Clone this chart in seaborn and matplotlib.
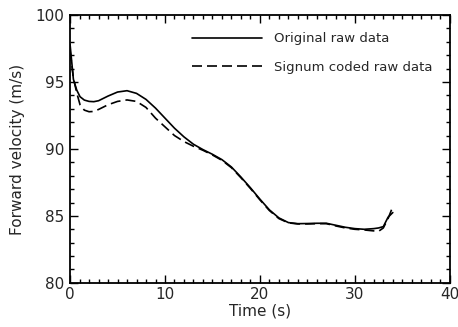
import seaborn as sns
import matplotlib.pyplot as plt
import pandas as pd
import numpy as np
from matplotlib.ticker import MultipleLocator

time_s = [0, 0.35, 0.7, 1.05, 1.5, 2.0, 2.5, 3, 4, 5, 6, 7, 8, 9, 10, 11, 12, 13, 14, 15,
          16, 17, 18, 19, 20, 21, 22, 23, 24, 25, 26, 27, 28, 29, 30, 31, 32, 32.5, 33, 33.5, 34]
original = [97.8, 95.2, 94.4, 93.9, 93.65, 93.55, 93.53, 93.6, 93.95, 94.25, 94.35, 94.15, 93.7,
            93.05, 92.3, 91.55, 90.9, 90.35, 89.95, 89.6, 89.2, 88.65, 87.9, 87.1, 86.25, 85.45,
            84.85, 84.5, 84.42, 84.43, 84.45, 84.45, 84.3, 84.15, 84.05, 84.0, 84.05, 84.1, 84.2,
            84.9, 85.25]
signum = [97.3, 95.3, 94.2, 93.3, 92.9, 92.78, 92.8, 92.95, 93.3, 93.55, 93.66, 93.55, 93.1,
          92.3, 91.65, 91.0, 90.55, 90.2, 89.9, 89.55, 89.15, 88.6, 87.85, 87.05, 86.2, 85.4,
          84.8, 84.48, 84.4, 84.4, 84.42, 84.42, 84.25, 84.1, 84.0, 83.95, 83.88, 83.85, 84.1,
          84.8, 85.7]
labels = ['Original raw data', 'Signum coded raw data']

df = pd.DataFrame({
    'time': time_s * 2,
    'velocity': original + signum,
    'series': [labels[0]] * len(time_s) + [labels[1]] * len(time_s),
})

sns.set_style('ticks')
plt.rcParams['font.family'] = ['DejaVu Sans']

fig = plt.figure(figsize=(4.58, 3.27), dpi=100)
ax = fig.add_axes([0.153, 0.135, 0.829, 0.819])

sns.lineplot(data=df, x='time', y='velocity', style='series', color='black',
             dashes={labels[0]: '', labels[1]: (6, 3)}, linewidth=1.2, ax=ax, sort=False)

ax.set_xlim(0, 40)
ax.set_ylim(80, 100)
ax.xaxis.set_major_locator(MultipleLocator(10))
ax.xaxis.set_minor_locator(MultipleLocator(1))
ax.yaxis.set_major_locator(MultipleLocator(5))
ax.yaxis.set_minor_locator(MultipleLocator(1))
ax.tick_params(which='both', direction='in', top=True, right=True, color='black',
               labelsize=11, width=1)
ax.tick_params(which='major', length=6)
ax.tick_params(which='minor', length=3)
ax.tick_params(axis='x', pad=3)
ax.tick_params(axis='y', pad=4)
for s in ax.spines.values():
    s.set_linewidth(1.3)
    s.set_color('black')

ax.set_xlabel('Time (s)', fontsize=11, labelpad=1)
ax.set_ylabel('Forward velocity (m/s)', fontsize=11, labelpad=8)

ax.legend(loc='upper right', frameon=False, fontsize=9.5, handlelength=5.3,
          labelspacing=1.2, borderaxespad=0.9, handletextpad=0.9)

fig.savefig('out.png', dpi=100)
